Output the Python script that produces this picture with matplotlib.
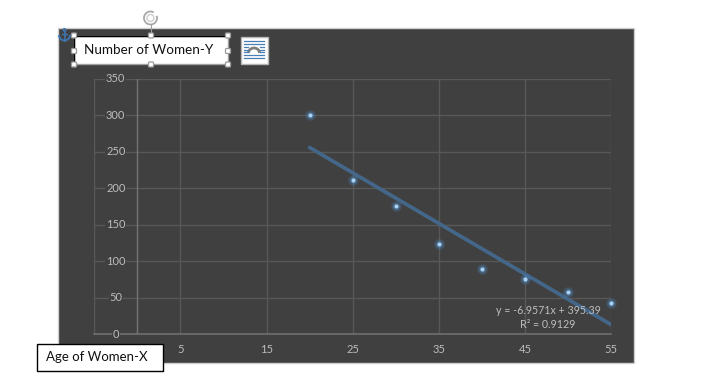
import matplotlib
matplotlib.use("Agg")
import matplotlib.pyplot as plt
import matplotlib.patches as patches

W, H = 704, 383

# === Data ===
ages = [20, 25, 30, 35, 40, 45, 50, 55]
women = [300, 212, 176, 124, 89, 75, 58, 42]
trend_x = [20, 55]
trend_y = [256, 12.8]
x_ticks = [5, 15, 25, 35, 45, 55]
y_ticks = [0, 50, 100, 150, 200, 250, 300, 350]
y_title = "Number of Women-Y"
x_title = "Age of Women-X"
equation = "y = -6.9571x + 395.39"
r_squared = "R² = 0.9129"

BG = "#404040"
GRID = "#585858"
AXIS = "#747474"
TXT = "#bdbdbd"
plt.rcParams['font.family'] = ['Lato', 'DejaVu Sans']


def px_rect(x0, y0, x1, y1):
    # pixel box (y from top) -> figure fractions
    return [x0 / W, 1 - y1 / H, (x1 - x0) / W, (y1 - y0) / H]


fig = plt.figure(figsize=(W / 100, H / 100), dpi=100, facecolor="white")

# === Dark chart panel ===
back = fig.add_axes([0, 0, 1, 1], zorder=0)
back.set_xlim(0, W)
back.set_ylim(H, 0)
back.axis("off")
back.add_patch(patches.Rectangle((58, 27.5), 576, 335.5, fc=BG, ec="#cfcfcf", lw=1))

# === Plot area ===
ax = fig.add_axes(px_rect(94.2, 79, 611.2, 334), zorder=1)
ax.set_xlim(-5, 55)
ax.set_ylim(0, 350)
ax.patch.set_alpha(0)
for s in ax.spines.values():
    s.set_visible(False)
ax.set_xticks([])
ax.set_yticks([])

for y in y_ticks[1:]:
    ax.axhline(y, color=GRID, lw=1, zorder=1)
for x in [-5] + x_ticks:
    ax.axvline(x, color=GRID, lw=1, zorder=1)
ax.axvline(0, color=AXIS, lw=1, zorder=1.5)
ax.axhline(0, color=AXIS, lw=1.1, zorder=1.5, clip_on=False)

for y in y_ticks:
    ax.text(-2.5, y, str(y), color=TXT, fontsize=8, ha="center", va="center", zorder=2,
            bbox=dict(fc=BG, ec="none", pad=0.4))
for x in x_ticks:
    ax.annotate(str(x), (x, 0), xytext=(0, -11), textcoords="offset points", color=TXT,
                fontsize=8, ha="center", va="center", annotation_clip=False)

ax.plot(trend_x, trend_y, color="#446789", lw=2.7, solid_capstyle="round", zorder=3)

# glow around the points
for size, alpha in [(70, 0.10), (48, 0.16), (30, 0.25)]:
    ax.scatter(ages, women, s=size, color="#4f8fd0", alpha=alpha, lw=0, zorder=4, clip_on=False)
ax.scatter(ages, women, s=9, color="#a9d0f5", lw=0, zorder=5, clip_on=False)

ax.text(548, 310, equation, transform=back.transData, color=TXT, fontsize=7.7,
        ha="center", va="center", zorder=6)
ax.text(548, 325, r_squared, transform=back.transData, color=TXT, fontsize=7.7,
        ha="center", va="center", zorder=6)

# === Word selection overlay ===
top = fig.add_axes([0, 0, 1, 1], zorder=2)
top.set_xlim(0, W)
top.set_ylim(H, 0)
top.axis("off")
top.patch.set_alpha(0)

top.add_patch(patches.Rectangle((74, 35.5), 153.5, 28.5, fc="white", ec="#a0a0a0", lw=1))
top.plot([74, 74, 227.5], [64, 35.5, 35.5], color="black", lw=1)
top.text(84, 50, y_title, color="#111111", fontsize=9.7, va="center", ha="left")

for hx in (74, 151, 228):
    for hy in (35.5, 51, 64.5):
        if hx == 151 and hy == 51:
            continue
        top.add_patch(patches.FancyBboxPatch((hx - 2.5, hy - 2.5), 5, 5, fc="white", ec="#9a9a9a", lw=0.9,
                                             boxstyle="round,pad=0,rounding_size=1", zorder=4))

# rotate handle
top.plot([150.5, 150.5], [24, 33], color="#a0a0a0", lw=0.8)
top.add_patch(patches.Arc((150.5, 18), 13, 13, theta1=-20, theta2=300, ec="#a8a8a8", lw=1.3))
top.add_patch(patches.Circle((150.5, 18), 3.5, fc="none", ec="#c8c8c8", lw=0.9))

# anchor
top.plot([64.5, 64.5], [31, 40.5], color="#3f74ad", lw=1.2)
top.plot([62, 67], [33.5, 33.5], color="#3f74ad", lw=1)
top.add_patch(patches.Circle((64.5, 30), 1.3, fc="none", ec="#3f74ad", lw=1))
top.add_patch(patches.Arc((64.5, 35), 11, 11, theta1=0, theta2=180, ec="#3f74ad", lw=1.4))

# layout options button
top.add_patch(patches.Rectangle((240.5, 36.5), 27, 27, fc="white", ec="#b5b5b5", lw=1))
for ly in (41, 43.5, 55, 58):
    top.plot([244, 264], [ly, ly], color="#4a7fb5", lw=0.9)
for ly in (47, 49.5, 52):
    top.plot([244, 248], [ly, ly], color="#4a7fb5", lw=0.9)
    top.plot([260, 264], [ly, ly], color="#4a7fb5", lw=0.9)
top.add_patch(patches.Arc((254, 53), 11, 10, theta1=180, theta2=360, ec="#7f7f7f", lw=2))

# axis title box
top.add_patch(patches.Rectangle((36.5, 343.5), 126, 27, fc="white", ec="black", lw=1))
top.text(46, 357, x_title, color="#111111", fontsize=9.5, va="center", ha="left")

fig.savefig("out.png", dpi=100)
